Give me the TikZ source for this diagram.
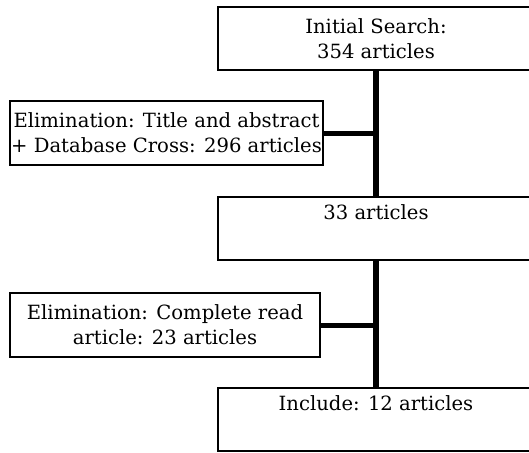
\documentclass[tikz,border=0pt]{standalone}
\usepackage{fontspec}
\setmainfont{DejaVu Serif}
\usepackage{tikz}
\usetikzlibrary{positioning}

\begin{document}
\begin{tikzpicture}[x=1pt,
				y=-1pt,
				box/.style={draw, line width=1.4pt, minimum width=316pt, minimum height=63pt, inner sep=1pt, align=center, font=\fontsize{19.6}{25}\selectfont},
				elim/.style={draw, line width=1.2pt, minimum width=313pt, minimum height=64pt, inner sep=0.5pt, align=center, font=\fontsize{19.6}{25}\selectfont},
				trunk/.style={line width=6pt},
				branch/.style={line width=5pt}]
				\useasboundingbox (0,0) rectangle (529,452);
				\node at (376,38.5) (search) [box] {Initial Search:\\354 articles};
				\node at (166.5,133) (title) [elim] {Elimination: Title and abstract\\+ Database Cross: 296 articles};
				\node at (376,228.5) (read) [box] {33 articles\\\strut};
				\node at (165,325) (full) [elim, minimum width=310pt] {Elimination: Complete read\\article: 23 articles};
				\node at (376,419.5) (include) [box] {Include: 12 articles\\\strut};
				\coordinate (j1) at (title.east -| search.south);
				\coordinate (j2) at (full.east -| read.south);
				\draw[trunk] (search.south) -- (read.north);
				\draw[trunk] (read.south) -- (include.north);
				\draw[branch] (title.east) -- (j1);
				\draw[branch] (full.east) -- (j2);
			\end{tikzpicture}
\end{document}
